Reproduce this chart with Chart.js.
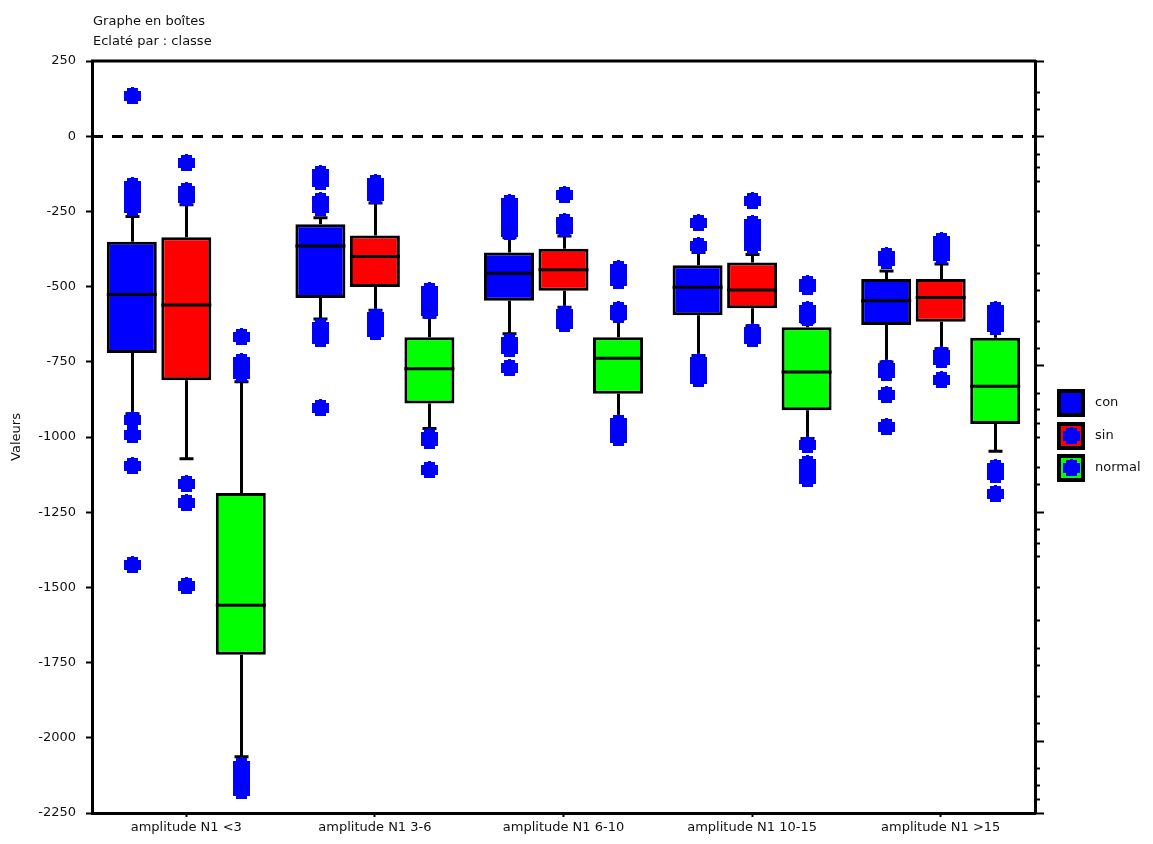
<!DOCTYPE html>
<html>
<head>
<meta charset="utf-8">
<script src="https://cdn.jsdelivr.net/npm/chart.js@4/dist/chart.umd.min.js"></script>
<style>
  html, body { margin: 0; padding: 0; background: #fff; }
  canvas { display: block; }
</style>
</head>
<body>
<canvas id="c" width="1153" height="844"></canvas>
<script>
// Categories (x axis)
const categories = ['amplitude N1 <3', 'amplitude N1 3-6', 'amplitude N1 6-10', 'amplitude N1 10-15', 'amplitude N1 >15'];
const seriesNames = ['con', 'sin', 'normal'];
const seriesColors = ['#0000ff', '#ff0000', '#00ff00'];

// con
const conHigh   = [-267, -271, -338, -387, -448];
const conQ3     = [-351, -293, -387, -429, -475];
const conMedian = [-526, -365, -456, -502, -547];
const conQ1     = [-721, -538, -547, -595, -628];
const conLow    = [-923, -608, -657, -729, -751];
const conOutliers = [
  [133, -164, -190, -215, -240, -943, -994, -1095, -1426],
  [-126, -140, -152, -215, -226, -238, -634, -655, -675, -905],
  [-222, -245, -273, -295, -318, -683, -708, -771],
  [-290, -365, -750, -772, -790, -807],
  [-397, -414, -772, -788, -860, -966]
];

// sin
const sinHigh   = [-228, -222, -332, -393, -425];
const sinQ3     = [-336, -330, -374, -420, -475];
const sinMedian = [-561, -400, -444, -511, -536];
const sinQ1     = [-811, -501, -514, -572, -617];
const sinLow    = [-1072, -579, -569, -630, -707];
const sinOutliers = [
  [-88, -182, -205, -1155, -1221, -1496],
  [-157, -178, -200, -602, -625, -650],
  [-194, -284, -308, -592, -610, -625],
  [-215, -291, -316, -340, -366, -651, -675],
  [-347, -372, -397, -728, -745, -809]
];

// normal
const normalHigh   = [-816, -602, -608, -620, -640];
const normalQ3     = [-1186, -668, -668, -635, -670];
const normalMedian = [-1559, -773, -738, -784, -831];
const normalQ1     = [-1724, -889, -856, -911, -957];
const normalLow    = [-2063, -972, -944, -1005, -1047];
const normalOutliers = [
  [-669, -752, -771, -791, -2094, -2120, -2150, -2177],
  [-513, -535, -560, -581, -999, -1013, -1109],
  [-443, -462, -480, -579, -595, -953, -978, -1003],
  [-490, -502, -579, -605, -1028, -1089, -1113, -1138],
  [-579, -600, -618, -635, -1102, -1125, -1188]
];

// Axis ticks
const yTickStep = 250;
const yMin = -2250;
const yMax = 250;
const leftCrossTicks = [250, 0, -2250];
const rightMajorTicks = [250, 0, -761, -1251, -2012, -2250];
const rightMinorTicks = [146, 89, -60, -103, -149, -251, -364, -457, -513, -615, -705,
  -854, -910, -956, -1003, -1102, -1158, -1307, -1353, -1396, -1499, -1611, -1704,
  -1760, -1863, -1952, -2101, -2158, -2204];

const titleLines = ['Graphe en boîtes', 'Eclaté par : classe'];
const yTitle = 'Valeurs';

const stats = [
  { q1: conQ1, q3: conQ3, median: conMedian, low: conLow, high: conHigh, outliers: conOutliers },
  { q1: sinQ1, q3: sinQ3, median: sinMedian, low: sinLow, high: sinHigh, outliers: sinOutliers },
  { q1: normalQ1, q3: normalQ3, median: normalMedian, low: normalLow, high: normalHigh, outliers: normalOutliers }
];

const FONT = '"DejaVu Sans", sans-serif';
const TEXT = '#111';
Chart.defaults.font.family = FONT;
Chart.defaults.font.size = 13;
Chart.defaults.color = TEXT;

function drawMarker(ctx, x, y) {
  x = Math.round(x); y = Math.round(y);
  ctx.fillRect(x - 8, y - 5, 17, 10);
  ctx.fillRect(x - 5, y - 8, 11, 16);
  ctx.fillRect(x - 1, y - 9, 3, 2);
}

const boxDetails = {
  id: 'boxDetails',
  beforeDatasetsDraw(chart) {
    const { ctx, chartArea, scales: { y } } = chart;
    ctx.save();
    // dashed zero reference line
    const y0 = Math.round(y.getPixelForValue(0)) + 0.5;
    ctx.strokeStyle = '#000';
    ctx.lineWidth = 3;
    ctx.setLineDash([11, 9]);
    ctx.beginPath();
    ctx.moveTo(chartArea.left, y0);
    ctx.lineTo(chartArea.right, y0);
    ctx.stroke();
    ctx.setLineDash([]);
    // whiskers and caps
    stats.forEach((s, di) => {
      chart.getDatasetMeta(di).data.forEach((bar, i) => {
        const x = Math.round(bar.x) + 0.5;
        const pHi = y.getPixelForValue(s.high[i]);
        const pQ3 = y.getPixelForValue(s.q3[i]);
        const pQ1 = y.getPixelForValue(s.q1[i]);
        const pLo = y.getPixelForValue(s.low[i]);
        ctx.beginPath();
        ctx.moveTo(x, pQ3); ctx.lineTo(x, pHi);
        ctx.moveTo(x, pQ1); ctx.lineTo(x, pLo);
        ctx.moveTo(x - 7, pHi); ctx.lineTo(x + 7, pHi);
        ctx.moveTo(x - 7, pLo); ctx.lineTo(x + 7, pLo);
        ctx.stroke();
      });
    });
    ctx.restore();
  },
  afterDatasetsDraw(chart) {
    const { ctx, scales: { y } } = chart;
    ctx.save();
    ctx.strokeStyle = '#000';
    ctx.lineWidth = 3;
    stats.forEach((s, di) => {
      chart.getDatasetMeta(di).data.forEach((bar, i) => {
        const pm = y.getPixelForValue(s.median[i]);
        ctx.beginPath();
        ctx.moveTo(bar.x - bar.width / 2, pm);
        ctx.lineTo(bar.x + bar.width / 2, pm);
        ctx.stroke();
      });
    });
    ctx.fillStyle = '#0000ff';
    stats.forEach((s, di) => {
      chart.getDatasetMeta(di).data.forEach((bar, i) => {
        s.outliers[i].forEach(v => drawMarker(ctx, bar.x, y.getPixelForValue(v)));
      });
    });
    ctx.restore();
  },
  afterDraw(chart) {
    const { ctx, chartArea, scales: { y } } = chart;
    ctx.save();
    // top frame line
    ctx.strokeStyle = '#000';
    ctx.lineWidth = 3;
    ctx.beginPath();
    ctx.moveTo(chartArea.left - 1, chartArea.top);
    ctx.lineTo(chartArea.right + 1, chartArea.top);
    ctx.stroke();
    // inward stubs on the left axis
    ctx.lineWidth = 2;
    leftCrossTicks.forEach(v => {
      const p = y.getPixelForValue(v);
      ctx.beginPath();
      ctx.moveTo(chartArea.left, p);
      ctx.lineTo(chartArea.left + 8, p);
      ctx.stroke();
    });
    // title
    ctx.fillStyle = TEXT;
    ctx.font = '13px ' + FONT;
    ctx.textAlign = 'left';
    ctx.textBaseline = 'alphabetic';
    ctx.fillText(titleLines[0], 93, 25);
    ctx.fillText(titleLines[1], 93, 45);
    // legend
    const lx = chartArea.right + 22;
    seriesNames.forEach((name, k) => {
      const cy = 403 + k * 32.5;
      const top = Math.round(cy - 14);
      ctx.fillStyle = '#000';
      ctx.fillRect(lx, top, 28, 28);
      ctx.fillStyle = seriesColors[k];
      ctx.fillRect(lx + 4, top + 4, 20, 20);
      ctx.fillStyle = '#0000ff';
      drawMarker(ctx, lx + 14, top + 14);
      ctx.fillStyle = TEXT;
      ctx.textBaseline = 'middle';
      ctx.fillText(name, lx + 38, cy);
    });
    ctx.restore();
  }
};

const datasets = stats.map((s, di) => ({
  label: seriesNames[di],
  data: categories.map((_, i) => [s.q1[i], s.q3[i]]),
  backgroundColor: seriesColors[di],
  borderColor: '#000',
  borderWidth: 3,
  borderSkipped: false,
  categoryPercentage: 0.867,
  barPercentage: 0.917
}));

new Chart(document.getElementById('c'), {
  type: 'bar',
  data: { labels: categories, datasets },
  plugins: [boxDetails],
  options: {
    responsive: false,
    animation: false,
    devicePixelRatio: 1,
    layout: { padding: { top: 61, right: 118, bottom: 0, left: 0 } },
    plugins: { legend: { display: false }, tooltip: { enabled: false }, title: { display: false } },
    scales: {
      x: {
        type: 'category',
        position: 'bottom',
        grid: { drawOnChartArea: false, offset: false, tickLength: 4, tickWidth: 2, tickColor: '#000' },
        border: { color: '#000', width: 3 },
        ticks: { font: { size: 13 }, color: TEXT, padding: 3, maxRotation: 0, autoSkip: false },
        afterFit(scale) { scale.height = 31; }
      },
      y: {
        type: 'linear',
        position: 'left',
        min: yMin,
        max: yMax,
        grid: { drawOnChartArea: false, tickLength: 6, tickWidth: 2, tickColor: '#000' },
        border: { color: '#000', width: 3 },
        ticks: {
          stepSize: yTickStep, font: { size: 13 }, color: TEXT, padding: 10,
          callback: (v) => String(v)
        },
        title: { display: true, text: yTitle, font: { size: 13 }, color: TEXT, padding: { top: 9, bottom: 0 } },
        afterFit(scale) { scale.width = 92; }
      },
      yMinor: {
        type: 'linear',
        position: 'right',
        min: yMin,
        max: yMax,
        grid: { drawOnChartArea: false, tickLength: 5, tickWidth: 2, tickColor: '#000' },
        border: { color: '#000', width: 3 },
        ticks: { display: false },
        afterBuildTicks(scale) { scale.ticks = rightMinorTicks.map(v => ({ value: v })); },
        afterFit(scale) { scale.width = 0; }
      },
      yMajor: {
        type: 'linear',
        position: 'right',
        min: yMin,
        max: yMax,
        grid: { drawOnChartArea: false, tickLength: 9, tickWidth: 2, tickColor: '#000' },
        border: { display: false },
        ticks: { display: false },
        afterBuildTicks(scale) { scale.ticks = rightMajorTicks.map(v => ({ value: v })); },
        afterFit(scale) { scale.width = 0; }
      }
    }
  }
});
</script>
</body>
</html>
